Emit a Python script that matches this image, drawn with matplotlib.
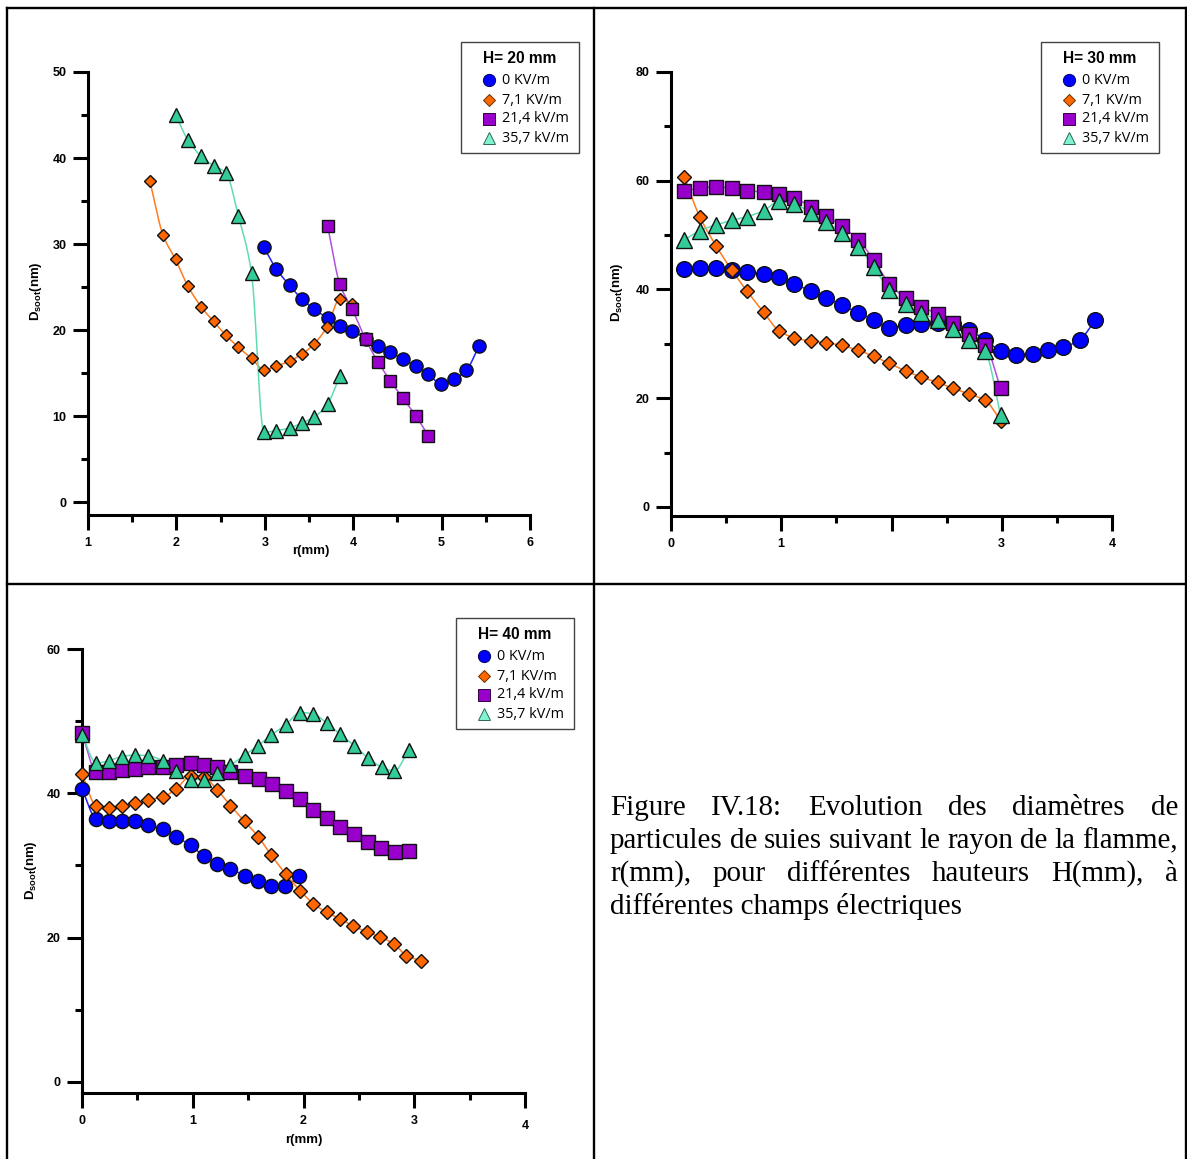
import numpy as np
import matplotlib
matplotlib.use("Agg")
import matplotlib.pyplot as plt
from matplotlib.lines import Line2D
from matplotlib.patches import Rectangle
from matplotlib.font_manager import FontProperties
from matplotlib.transforms import ScaledTranslation

plt.rcParams['mathtext.default'] = 'regular'

# ---------------- data ----------------
series_labels = ['0 KV/m', '7,1 KV/m', '21,4 kV/m', '35,7 kV/m']

# H = 20 mm
h20_r_0 = [2.99, 3.13, 3.28, 3.42, 3.56, 3.71, 3.85, 3.99, 4.14, 4.28, 4.42, 4.56, 4.71, 4.85, 4.99, 5.14, 5.28, 5.42]
h20_d_0 = [29.6, 27.1, 25.2, 23.6, 22.4, 21.4, 20.5, 19.9, 19.0, 18.1, 17.4, 16.6, 15.8, 14.9, 13.7, 14.3, 15.3, 18.1]
h20_r_7 = [1.70, 1.85, 1.99, 2.13, 2.28, 2.42, 2.56, 2.70, 2.85, 2.99, 3.13, 3.28, 3.42, 3.56, 3.70, 3.85, 3.99]
h20_d_7 = [37.3, 31.0, 28.2, 25.1, 22.7, 21.0, 19.4, 18.0, 16.7, 15.4, 15.8, 16.4, 17.2, 18.4, 20.3, 23.6, 23.0]
h20_r_21 = [3.71, 3.85, 3.99, 4.14, 4.28, 4.42, 4.56, 4.71, 4.85]
h20_d_21 = [32.1, 25.3, 22.4, 18.9, 16.3, 14.1, 12.1, 10.0, 7.7]
h20_r_35 = [1.99, 2.13, 2.28, 2.42, 2.56, 2.70, 2.85, 2.99, 3.13, 3.28, 3.42, 3.56, 3.71, 3.85]
h20_d_35 = [45.0, 42.1, 40.2, 39.1, 38.3, 33.3, 26.6, 8.1, 8.3, 8.6, 9.2, 9.9, 11.4, 14.7]

# H = 30 mm
h30_r_0 = [0.12, 0.26, 0.41, 0.55, 0.69, 0.84, 0.98, 1.12, 1.27, 1.41, 1.55, 1.70, 1.84, 1.98,
           2.13, 2.27, 2.42, 2.56, 2.70, 2.85, 2.99, 3.13, 3.28, 3.42, 3.56, 3.71, 3.85]
h30_d_0 = [43.8, 44.0, 43.9, 43.6, 43.2, 42.8, 42.3, 41.0, 39.7, 38.4, 37.1, 35.7, 34.4, 33.0,
           33.5, 33.7, 33.8, 33.6, 32.6, 30.7, 28.7, 28.0, 28.1, 28.8, 29.4, 30.8, 34.4]
h30_r_7 = [0.12, 0.26, 0.41, 0.55, 0.69, 0.84, 0.98, 1.12, 1.27, 1.41, 1.55, 1.70, 1.84, 1.98,
           2.13, 2.27, 2.42, 2.56, 2.70, 2.85, 2.99]
h30_d_7 = [60.7, 53.4, 48.0, 43.6, 39.7, 35.8, 32.4, 31.1, 30.5, 30.2, 29.7, 28.8, 27.7, 26.4,
           25.0, 23.9, 22.9, 21.8, 20.8, 19.6, 15.9]
h30_r_21 = [0.12, 0.26, 0.41, 0.55, 0.69, 0.84, 0.98, 1.12, 1.27, 1.41, 1.55, 1.70, 1.84, 1.98,
            2.13, 2.27, 2.42, 2.56, 2.70, 2.85, 2.99]
h30_d_21 = [58.2, 58.6, 58.9, 58.6, 58.2, 57.9, 57.5, 56.8, 55.2, 53.6, 51.6, 49.1, 45.4, 41.1,
            38.4, 36.8, 35.5, 33.8, 31.8, 29.8, 21.8]
h30_r_35 = [0.12, 0.26, 0.41, 0.55, 0.69, 0.84, 0.98, 1.12, 1.27, 1.41, 1.55, 1.70, 1.84, 1.98,
            2.13, 2.27, 2.42, 2.56, 2.70, 2.85, 2.99]
h30_d_35 = [49.1, 50.8, 51.9, 52.7, 53.4, 54.5, 56.2, 55.7, 54.1, 52.4, 50.4, 47.9, 44.1, 39.9,
            37.3, 35.7, 34.4, 32.8, 30.7, 28.6, 16.9]

# H = 40 mm
h40_r_0 = [0.0, 0.13, 0.24, 0.36, 0.48, 0.60, 0.73, 0.85, 0.98, 1.10, 1.22, 1.34, 1.47, 1.59, 1.71, 1.83, 1.96]
h40_d_0 = [40.6, 36.4, 36.1, 36.1, 36.1, 35.6, 35.0, 34.0, 32.8, 31.3, 30.2, 29.5, 28.6, 27.8, 27.2, 27.1, 28.6]
h40_r_7 = [0.0, 0.13, 0.24, 0.36, 0.48, 0.60, 0.73, 0.85, 0.98, 1.10, 1.22, 1.34, 1.47, 1.59, 1.71, 1.84,
           1.97, 2.09, 2.21, 2.33, 2.45, 2.57, 2.69, 2.82, 2.93, 3.06]
h40_d_7 = [42.7, 38.2, 37.9, 38.3, 38.6, 39.1, 39.5, 40.6, 42.4, 42.2, 40.5, 38.3, 36.1, 34.0, 31.4, 28.8,
           26.5, 24.7, 23.5, 22.6, 21.6, 20.8, 20.1, 19.1, 17.5, 16.8]
h40_r_21 = [0.0, 0.13, 0.24, 0.36, 0.48, 0.60, 0.73, 0.85, 0.98, 1.10, 1.22, 1.34, 1.47, 1.60, 1.72, 1.84,
            1.97, 2.09, 2.21, 2.33, 2.46, 2.58, 2.70, 2.83, 2.95]
h40_d_21 = [48.3, 43.0, 42.9, 43.2, 43.4, 43.6, 43.6, 43.9, 44.2, 43.9, 43.7, 43.0, 42.4, 42.0, 41.3, 40.3,
            39.2, 37.7, 36.6, 35.4, 34.4, 33.3, 32.4, 31.9, 32.0]
h40_r_35 = [0.0, 0.13, 0.24, 0.36, 0.48, 0.60, 0.73, 0.85, 0.98, 1.10, 1.22, 1.34, 1.47, 1.59, 1.71, 1.84,
            1.97, 2.09, 2.21, 2.33, 2.46, 2.58, 2.71, 2.82, 2.95]
h40_d_35 = [48.1, 44.2, 44.5, 45.1, 45.3, 45.2, 44.5, 43.1, 41.9, 41.9, 42.8, 43.9, 45.3, 46.6, 48.1, 49.5,
            51.2, 51.0, 49.7, 48.2, 46.6, 44.9, 43.6, 43.1, 46.0]

caption_lines = [
    "Figure IV.18: Evolution des diamètres de",
    "particules de suies suivant le rayon de la flamme,",
    "r(mm), pour différentes hauteurs H(mm), à",
    "différentes champs électriques",
]

# ---------------- styles ----------------
W, H = 1187, 1159
DPI = 100
MARK = ['o', 'D', 's', '^']
FACE = ['#0000FF', '#FF6600', '#9900CC', '#33CC99']
LINEC = ['#2020FF', '#FF7A20', '#B050E0', '#60DDB0']
LEGFACE = ['#0000FF', '#FF6600', '#9900CC', '#80F2D0']
LEGEDGE = ['#000060', '#663300', '#330044', '#2a6a55']
LEGMS = [8.8, 6.4, 8.8, 9.2]

fig = plt.figure(figsize=(W / DPI, H / DPI), dpi=DPI)
fig.patch.set_facecolor('white')


def fx(x):
    return x / W


def fy(y):
    return 1 - y / H


def smooth(x, y, n=24):
    x = np.asarray(x, float)
    y = np.asarray(y, float)
    h = np.diff(x)
    d = np.diff(y) / h
    m = np.zeros_like(y)
    m[0] = d[0]
    m[-1] = d[-1]
    for k in range(1, len(x) - 1):
        if d[k - 1] * d[k] <= 0:
            m[k] = 0.0
        else:
            w1 = 2 * h[k] + h[k - 1]
            w2 = h[k] + 2 * h[k - 1]
            m[k] = (w1 + w2) / (w1 / d[k - 1] + w2 / d[k])
    t = np.linspace(0, 1, n)
    h00 = 2 * t**3 - 3 * t**2 + 1
    h10 = t**3 - 2 * t**2 + t
    h01 = -2 * t**3 + 3 * t**2
    h11 = t**3 - t**2
    xs, ys = [], []
    for k in range(len(x) - 1):
        xs.append(x[k] + t * h[k])
        ys.append(h00 * y[k] + h10 * h[k] * m[k] + h01 * y[k + 1] + h11 * h[k] * m[k + 1])
    return np.concatenate(xs), np.concatenate(ys)


# table borders
for (x0, y0, x1, y1) in [(7, 8, 1186, 8), (7, 584, 1186, 584), (7, 8, 7, 1159),
                         (594, 8, 594, 1159), (1186, 8, 1186, 1159)]:
    fig.add_artist(Line2D([fx(x0), fx(x1)], [fy(y0), fy(y1)], lw=1.7, color='black'))

tickfont = FontProperties(family='Liberation Sans', weight='bold', size=9)
labfont = FontProperties(family='Liberation Sans', weight='bold', size=9.5)
legfont = FontProperties(family='Open Sans', size=10.4)
legtitlefont = FontProperties(family='Liberation Sans', weight='bold', size=11.2)


def legend_box(left, top, title):
    bw, bh = 118, 111
    fig.add_artist(Rectangle((fx(left), fy(top + bh)), bw / W, bh / H, transform=fig.transFigure,
                             facecolor='white', edgecolor='#444444', lw=1.0, zorder=20))
    fig.text(fx(left + bw / 2), fy(top + 16.5), title, ha='center', va='center',
             fontproperties=legtitlefont, zorder=21)
    for i, dy in enumerate([38, 58, 77, 96]):
        fig.add_artist(Line2D([fx(left + 28)], [fy(top + dy)], ls='none', marker=MARK[i],
                              ms=LEGMS[i], mfc=LEGFACE[i], mec=LEGEDGE[i], mew=0.7, zorder=21))
        fig.text(fx(left + 41), fy(top + dy), series_labels[i], ha='left', va='center',
                 fontproperties=legfont, zorder=21)


def panel(box, xlim, ylim, xticks, xlabels, yticks, ymin, series, msizes,
          legpos, title, ylab_x, xlab_xy):
    l, t, r, b = box
    ax = fig.add_axes([fx(l), fy(b), fx(r) - fx(l), fy(t) - fy(b)])
    ax.set_xlim(*xlim)
    ax.set_ylim(*ylim)
    for s in ['top', 'right']:
        ax.spines[s].set_visible(False)
    for s in ['left', 'bottom']:
        ax.spines[s].set_linewidth(2.2)
    ax.set_xticks(xticks)
    ax.set_xticklabels(xlabels)
    ax.set_xticks(ymin[0], minor=True)
    ax.set_yticks(yticks)
    ax.set_yticks(ymin[1], minor=True)
    ax.tick_params(which='major', direction='out', length=10.5, width=2.2, pad=5)
    ax.tick_params(which='minor', direction='out', length=5, width=2.2)
    for lb in ax.get_xticklabels() + ax.get_yticklabels():
        lb.set_fontproperties(tickfont)
    for i, (xs, ys) in enumerate(series):
        sx, sy = smooth(xs, ys)
        ax.plot(sx, sy, color=LINEC[i], lw=1.1, zorder=2 + i * 0.1, clip_on=False)
    for i, (xs, ys) in enumerate(series):
        ax.plot(xs, ys, ls='none', marker=MARK[i], ms=msizes[i], mfc=FACE[i], mec='#111111',
                mew=1.0, zorder=3 + i, clip_on=False, label=series_labels[i])
    legend_box(legpos[0], legpos[1], title)
    fig.text(fx(ylab_x[0]), fy(ylab_x[1]), 'D$_{soot}$(nm)', rotation=90, ha='center', va='center',
             fontproperties=labfont)
    if xlab_xy is not None:
        fig.text(fx(xlab_xy[0]), fy(xlab_xy[1]), 'r(mm)', ha='center', va='center', fontproperties=labfont)
    return ax


# H = 20 mm
panel((88, 72, 530, 515), (1, 6), (-1.51, 50), [1, 2, 3, 4, 5, 6], ['1', '2', '3', '4', '5', '6'],
      [0, 10, 20, 30, 40, 50], ([1.5, 2.5, 3.5, 4.5, 5.5], [5, 15, 25, 35, 45]),
      [(h20_r_0, h20_d_0), (h20_r_7, h20_d_7), (h20_r_21, h20_d_21), (h20_r_35, h20_d_35)],
      [9.5, 6.5, 9.2, 10], (461, 42), 'H= 20 mm', (36, 291), (311, 551))

# H = 30 mm
panel((671, 72, 1112, 516), (0, 4), (-1.66, 80), [0, 1, 2, 3, 4], ['0', '1', '', '3', '4'],
      [0, 20, 40, 60, 80], ([0.5, 1.5, 2.5, 3.5], [10, 30, 50, 70]),
      [(h30_r_0, h30_d_0), (h30_r_7, h30_d_7), (h30_r_21, h30_d_21), (h30_r_35, h30_d_35)],
      [11.3, 7.5, 10.5, 11], (1041, 42), 'H= 30 mm', (617, 292), None)

# H = 40 mm
ax3 = panel((82, 649, 525, 1093), (0, 4), (-1.53, 60), [0, 1, 2, 3, 4], ['0', '1', '2', '3', '4'],
            [0, 20, 40, 60], ([0.5, 1.5, 2.5, 3.5], [10, 30, 50]),
            [(h40_r_0, h40_d_0), (h40_r_7, h40_d_7), (h40_r_21, h40_d_21), (h40_r_35, h40_d_35)],
            [10.2, 7.0, 10.0, 10.2], (456, 618), 'H= 40 mm', (31, 870), (304, 1140))
lb4 = ax3.get_xticklabels()[-1]
lb4.set_transform(lb4.get_transform() + ScaledTranslation(0, -4 / 72, fig.dpi_scale_trans))

# caption (justified)
capfont = FontProperties(family='Liberation Serif', size=20.9)
renderer = fig.canvas.get_renderer()
left_px, right_px = 610, 1178
baselines = [815, 848, 881, 914]
for li, line in enumerate(caption_lines):
    words = line.split(' ')
    if li < len(caption_lines) - 1:
        txts = [fig.text(0, 0, w, fontproperties=capfont) for w in words]
        widths = [tt.get_window_extent(renderer).width for tt in txts]
        gap = (right_px - left_px - sum(widths)) / (len(words) - 1)
        x = left_px
        for tt, wd in zip(txts, widths):
            tt.set_position((fx(x), fy(baselines[li])))
            tt.set_va('baseline')
            x += wd + gap
    else:
        fig.text(fx(left_px), fy(baselines[li]), line, fontproperties=capfont, va='baseline')

fig.savefig('out.png', dpi=DPI, facecolor='white')
